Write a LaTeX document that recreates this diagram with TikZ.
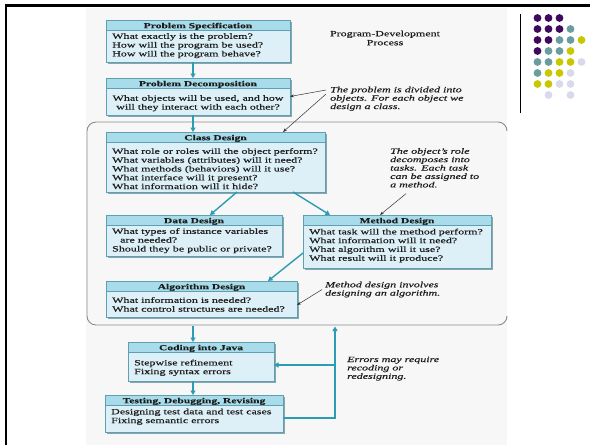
\documentclass[tikz,border=0pt]{standalone}
\usepackage{fontspec}
\setmainfont{Liberation Serif}[FakeStretch=1.5, FakeBold=0.35]
\usetikzlibrary{arrows.meta,calc}
\definecolor{arrowc}{HTML}{2C9CB4}
\definecolor{hdr}{HTML}{A9DCEA}
\definecolor{bdy}{HTML}{DDF0F7}
\definecolor{bord}{HTML}{5E9FB0}
\definecolor{shad}{HTML}{8AA5AE}
\definecolor{txt}{HTML}{1C1C1C}
\definecolor{dp}{HTML}{3F0A5E}
\definecolor{dt}{HTML}{6A9E9E}
\definecolor{dy}{HTML}{C9C800}
\definecolor{dl}{HTML}{D9D9EC}
\tikzset{
  flow/.style={draw=arrowc, line width=1.4pt, -{Triangle[length=4.5pt,width=5pt]}},
  ptr/.style={draw=black!80, line width=0.5pt, -{Stealth[length=4pt,width=3pt]}},
  boxbody/.style={fill=bdy, inner sep=0pt, outer sep=0pt},
  hdrtext/.style={font=\fontsize{7.7}{8}\selectfont\bfseries, text=txt, inner sep=0pt, anchor=base},
  bodytext/.style={font=\fontsize{8}{8.8}\selectfont, text=txt, align=left, inner sep=0pt, anchor=north west},
  note/.style={font=\fontsize{8}{8.4}\selectfont\itshape, text=txt, align=left, inner sep=0pt, anchor=north west},
  bigbox/.style={draw=black!45, line width=0.9pt, rounded corners=9pt},
}
\newcommand\mkbox[6]{%
  \fill[shad] (#2+1.6,#3+1.6) rectangle (#4+1.6,#5+1.6);
  \node[boxbody, minimum width=#4-#2, minimum height=#5-#3] (#1) at ({(#2+#4)/2},{(#3+#5)/2}) {};
  \fill[hdr] (#2,#3) rectangle (#4,#3+10.5);
  \draw[bord, line width=0.5pt] (#2,#3+10.5) -- (#4,#3+10.5);
  \draw[bord, line width=0.8pt] (#1.north west) rectangle (#1.south east);
  \node[hdrtext] (#1-h) at ({(#2+#4)/2},#3+8.2) {#6};
}
\begin{document}
\begin{tikzpicture}[x=1pt,y=-1pt]
\useasboundingbox (0,0) rectangle (590,445);
\fill[white] (0,0) rectangle (590,445);
\fill[black!3] (86,8) rectangle (507,445);
% slide frame
\draw[line width=3pt] (5,5) -- (590,5);
\draw[line width=2pt] (6,4) -- (6,445);
\draw[line width=1.2pt] (520.5,14) -- (520.5,113);
% dots
\foreach \x/\y/\c in {
  537.5/18/dp, 548.5/18/dp, 559.5/18/dp,
  537.5/29/dp, 548.5/29/dp, 559.5/29/dp, 570.5/29/dt,
  537.5/40/dp, 548.5/40/dp, 559.5/40/dt, 570.5/40/dt, 581.5/40/dy,
  537.5/51/dp, 548.5/51/dt, 559.5/51/dt, 570.5/51/dy,
  537.5/62/dt, 548.5/62/dt, 559.5/62/dy, 570.5/62/dy, 581.5/62/dl,
  537.5/73/dt, 548.5/73/dy, 559.5/73/dy, 570.5/73/dl,
  537.5/84/dy, 548.5/84/dy, 559.5/84/dl, 570.5/84/dl,
  548.5/95/dl, 570.5/95/dl}
  \fill[\c] (\x,\y) circle[radius=3.9pt];
% big rounded frame (open on the right)
\draw[bigbox] (507,131) -- (507,122) -- (87,122) -- (87,325) -- (507,325) -- (507,318);
% title
\node[font=\fontsize{8}{9}\selectfont, align=center, text=txt] (title) at (385,38) {Program-Development\\Process};
% boxes
\mkbox{spec}{106}{20}{290}{62}{Problem Specification}
\node[bodytext] (spec-b) at (112,33) {What exactly is the problem?\\How will the program be used?\\How will the program behave?};
\mkbox{decomp}{106}{78}{290}{115}{Problem Decomposition}
\node[bodytext, align=center, anchor=north] (decomp-b) at (198,95) {What objects will be used, and how\\will they interact with each other?};
\mkbox{class}{106}{132}{325}{192}{Class Design}
\node[bodytext] (class-b) at (112,148) {What role or roles will the object perform?\\What variables (attributes) will it need?\\What methods (behaviors) will it use?\\What interface will it present?\\What information will it hide?};
\mkbox{data}{106}{215}{282}{256}{Data Design}
\node[bodytext] (data-b) at (112,228) {What types of instance variables\\\hspace*{8pt}are needed?\\Should they be public or private?};
\mkbox{method}{303}{215}{491}{268}{Method Design}
\node[bodytext] (method-b) at (309,228.5) {What task will the method perform?\\What information will it need?\\What algorithm will it use?\\What result will it produce?};
\mkbox{algo}{106}{281}{297}{317}{Algorithm Design}
\node[bodytext] (algo-b) at (112,297) {What information is needed?\\What control structures are needed?};
\mkbox{coding}{128}{342}{274}{381}{Coding into Java}
\node[bodytext] (coding-b) at (134,359.5) {Stepwise refinement\\Fixing syntax errors};
\mkbox{testing}{105}{395}{283}{432}{Testing, Debugging, Revising}
\node[bodytext] (testing-b) at (111,408.5) {Designing test data and test cases\\Fixing semantic errors};
% notes
\node[note] (n1) at (330,86.5) {The problem is divided into\\objects. For each object we\\design a class.};
\node[note] (n2) at (390,148) {The object's role\\decomposes into\\tasks. Each task\\can be assigned to\\a method.};
\node[note] (n3) at (325,281.5) {Method design involves\\designing an algorithm.};
\node[note] (n4) at (347,356.5) {Errors may require\\recoding or\\redesigning.};
% pointers
\draw[ptr] ([xshift=-4pt,yshift=-3.5pt]n1.north west) -- (decomp.east);
\draw[ptr] ([xshift=-4pt,yshift=-7.5pt]n1.north west) -- ([xshift=-42pt]class.north east);
\draw[ptr] ([xshift=16pt,yshift=-6pt]n2.south west) -- ([xshift=-17pt]method.north);
\draw[ptr] ([xshift=-3pt]n3.west) -- ([yshift=-6pt]algo.east);
% flow arrows
\draw[flow] ([xshift=-5pt]spec.south) -- ([xshift=-5pt]decomp.north);
\draw[flow] ([xshift=-5pt]decomp.south) -- ([xshift=-5pt]decomp.south |- class.north);
\draw[flow] ([xshift=21.5pt]class.south) -- ([xshift=16pt]data.north);
\draw[flow] ([xshift=77.5pt]class.south) -- ([xshift=-67pt]method.north);
\draw[flow] ([yshift=-11.5pt]method.west) -- ([xshift=66.5pt]algo.north);
\coordinate (bigout) at (193,325.5);
\draw[flow] (bigout) -- (bigout |- coding.north);
\draw[flow] (coding.south -| bigout) -- (testing.north -| bigout);
\coordinate (fbtop) at (335,326.5);
\coordinate (fbmid) at (335,365);
\draw[flow] ([yshift=-4.5pt]testing.east) -| (fbtop);
\draw[flow] (fbmid) -- (fbmid -| coding.east);
\end{tikzpicture}
\end{document}
